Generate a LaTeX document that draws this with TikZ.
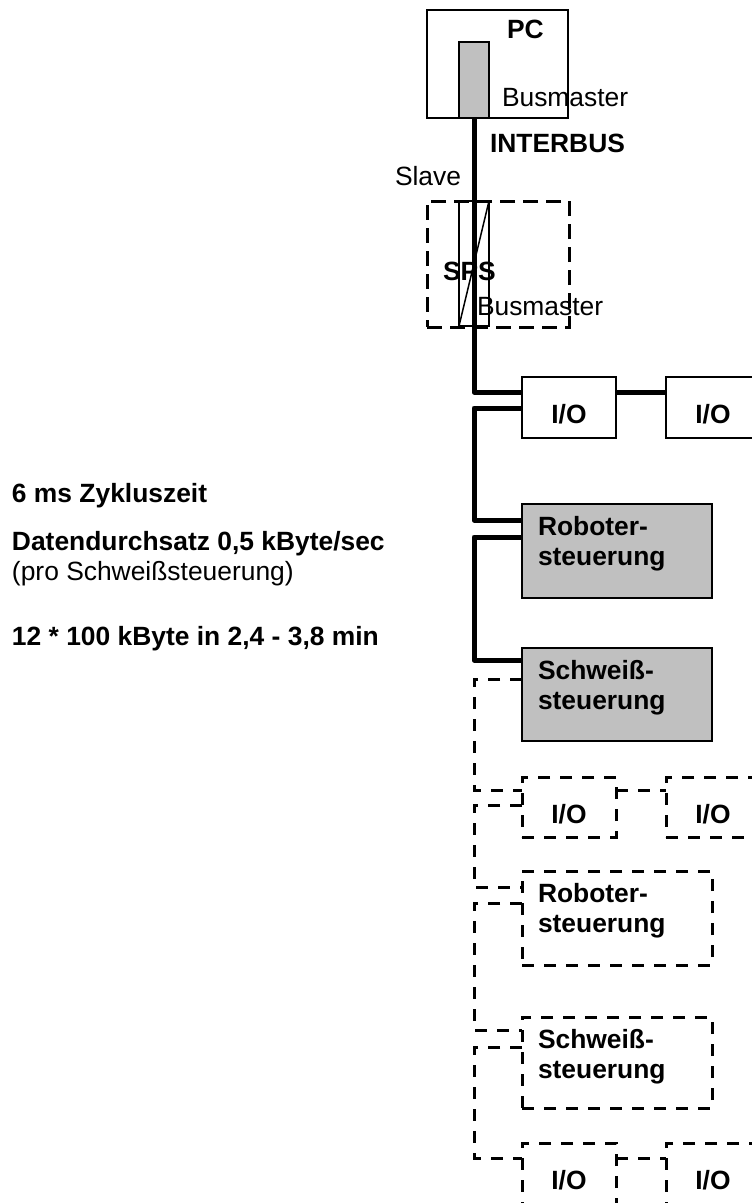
\documentclass[tikz,border=0pt]{standalone}
\usepackage{fontspec}
\setmainfont{Liberation Sans}
\usetikzlibrary{calc}
\begin{document}
\begin{tikzpicture}[x=1pt,y=-1pt,
  box/.style={draw, line width=2pt, anchor=north west, inner sep=0pt, outer sep=0pt},
  dbox/.style={draw, line width=3pt, dash pattern=on 12pt off 10pt, anchor=north west, inner sep=0pt, outer sep=0pt},
  graybox/.style={box, fill={rgb,255:red,192;green,192;blue,192}},
  bus/.style={line width=5pt, line join=round},
  dbus/.style={line width=3pt, dash pattern=on 12pt off 10pt},
  txt/.style={anchor=base west, inner sep=0pt, outer sep=0pt, font=\fontsize{26.4}{30}\selectfont},
  btxt/.style={txt, font=\fontsize{26.4}{30}\selectfont\bfseries},
  ctxt/.style={btxt, anchor=base}]
\useasboundingbox[fill=white] (0,0) rectangle (752,1203);
\coordinate (bx) at (474,0);
% PC
\node[box, minimum width=141pt, minimum height=108pt] (pc) at (427,10) {};
\node[graybox, minimum width=30pt, minimum height=76pt] (bm) at (459,42) {};
\node[btxt] (pclbl) at (507,38) {PC};
\node[txt] (bm1lbl) at (502,106) {Busmaster};
\node[btxt] (iblbl) at (490,152) {INTERBUS};
\node[txt] (slave) at (395,185) {Slave};
% SPS
\node[dbox, dash pattern=on 15pt off 8pt, minimum width=142pt, minimum height=126pt] (sps) at (427,201) {};
\node[box, line width=1.5pt, minimum width=30pt, minimum height=125pt] (spsin) at (459,201) {};
\draw[line width=1.5pt] (spsin.south west) -- (spsin.north east);
\node[btxt] (spslbl) at (443,280) {SPS};
\node[txt] (bm2lbl) at (477,315) {Busmaster};
% solid devices
\node[box, minimum width=94pt, minimum height=61pt] (io1) at (522,377) {};
\node[box, minimum width=94pt, minimum height=61pt] (io2) at (666,377) {};
\node[ctxt] (io1lbl) at (569,423) {I/O};
\node[ctxt] (io2lbl) at (713,423) {I/O};
\node[graybox, minimum width=190pt, minimum height=94pt] (rob1) at (522,504) {};
\node[btxt] (rob1a) at (538,535) {Roboter-};
\node[btxt] (rob1b) at (538,565) {steuerung};
\node[graybox, minimum width=190pt, minimum height=93pt] (sw1) at (522,648) {};
\node[btxt] (sw1a) at (538,679) {Schweiß-};
\node[btxt] (sw1b) at (538,709) {steuerung};
% dashed devices
\node[dbox, minimum width=94pt, minimum height=60pt] (io3) at (522,777) {};
\node[dbox, minimum width=94pt, minimum height=60pt] (io4) at (666,777) {};
\node[ctxt] (io3lbl) at (569,823) {I/O};
\node[ctxt] (io4lbl) at (713,823) {I/O};
\node[dbox, minimum width=190pt, minimum height=94pt] (rob2) at (522,871) {};
\node[btxt] (rob2a) at (538,902) {Roboter-};
\node[btxt] (rob2b) at (538,932) {steuerung};
\node[dbox, minimum width=190pt, minimum height=91pt] (sw2) at (522,1017) {};
\node[btxt] (sw2a) at (538,1048) {Schweiß-};
\node[btxt] (sw2b) at (538,1078) {steuerung};
\node[dbox, minimum width=94pt, minimum height=61pt] (io5) at (522,1143) {};
\node[dbox, minimum width=94pt, minimum height=61pt] (io6) at (666,1143) {};
\node[ctxt] (io5lbl) at (569,1189) {I/O};
\node[ctxt] (io6lbl) at (713,1189) {I/O};
% connection points
\coordinate (io1i) at ($(io1.north west)+(0,15)$);
\coordinate (io1o) at ($(io1.north west)+(0,31)$);
\coordinate (io1r) at ($(io1.north east)+(0,15)$);
\coordinate (io2i) at ($(io2.north west)+(0,15)$);
\coordinate (rob1i) at ($(rob1.north west)+(0,16)$);
\coordinate (rob1o) at ($(rob1.north west)+(0,33)$);
\coordinate (sw1i) at ($(sw1.north west)+(0,12)$);
\coordinate (sw1o) at ($(sw1.north west)+(0,31)$);
\coordinate (io3i) at ($(io3.north west)+(0,13)$);
\coordinate (io3o) at ($(io3.north west)+(0,28)$);
\coordinate (io3r) at ($(io3.north east)+(0,13)$);
\coordinate (io4i) at ($(io4.north west)+(0,13)$);
\coordinate (rob2i) at ($(rob2.north west)+(0,16)$);
\coordinate (rob2o) at ($(rob2.north west)+(0,32)$);
\coordinate (sw2i) at ($(sw2.north west)+(0,13)$);
\coordinate (sw2o) at ($(sw2.north west)+(0,30)$);
\coordinate (io5i) at ($(io5.north west)+(0,15)$);
\coordinate (io5r) at ($(io5.north east)+(0,15)$);
\coordinate (io6i) at ($(io6.north west)+(0,15)$);
% bus
\draw[bus] (bm.south) |- (io1i);
\draw[bus] (io1r) -- (io2i);
\draw[bus] (io1o) -- (io1o -| bx) |- (rob1i);
\draw[bus] (rob1o) -- (rob1o -| bx) |- (sw1i);
\draw[dbus] (sw1o) -- (sw1o -| bx) |- (io3i);
\draw[dbus] (io3r) -- (io4i);
\draw[dbus] (io3o) -- (io3o -| bx) |- (rob2i);
\draw[dbus] (rob2o) -- (rob2o -| bx) |- (sw2i);
\draw[dbus] (sw2o) -- (sw2o -| bx) |- (io5i);
\draw[dbus] (io5r) -- (io6i);
% left texts
\node[btxt] (t1) at (12,502) {6 ms Zykluszeit};
\node[btxt] (t2) at (12,550) {Datendurchsatz 0,5 kByte/sec};
\node[txt] (t3) at (12,580) {(pro Schweißsteuerung)};
\node[btxt] (t4) at (12,645) {12 * 100 kByte in 2,4 - 3,8 min};
\end{tikzpicture}
\end{document}
